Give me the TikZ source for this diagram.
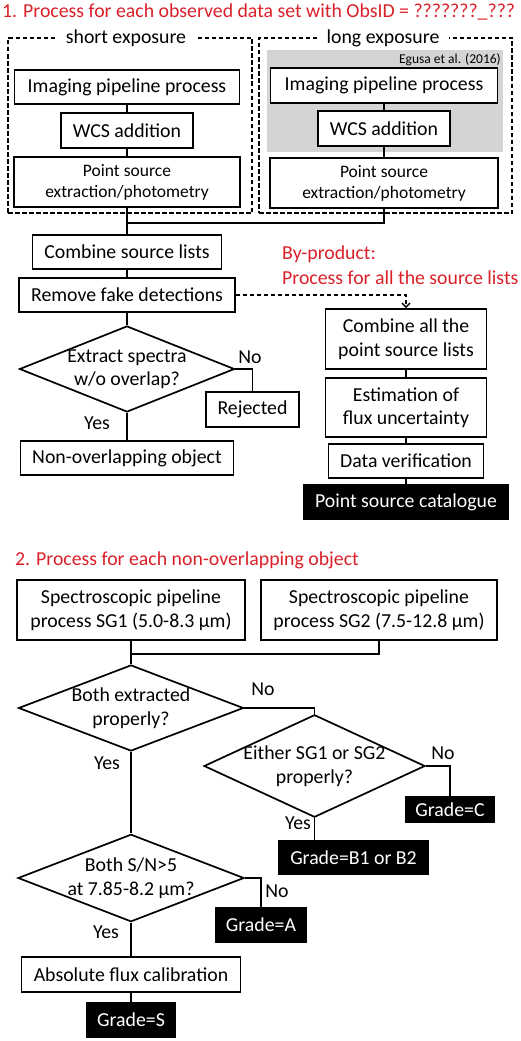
\documentclass[tikz,border=0pt]{standalone}
\usepackage{fontspec}
\setmainfont{Carlito}
\usepackage{tikz}
\usetikzlibrary{shapes.geometric,arrows.meta,positioning}
\definecolor{titlered}{RGB}{218,32,40}
\definecolor{egusagray}{RGB}{212,212,212}
\newcommand\boxfont{\fontsize{19.8}{23.5}\selectfont}
\newcommand\smallboxfont{\fontsize{17.5}{21}\selectfont}

\begin{document}
\begin{tikzpicture}[y=-1pt,x=1pt,
	box/.style={draw,fill=white,line width=1.8pt,inner sep=0pt,align=center,font=\boxfont},
	darkbox/.style={box,fill=black,text=white},
	decision/.style={diamond,draw,line width=1.7pt,inner sep=-20pt,align=center,font=\boxfont},
	group/.style={draw,line width=1.4pt,dash pattern=on 4.5pt off 2.5pt},
	grouplabel/.style={fill=white,inner xsep=10pt,inner ysep=1pt,font=\boxfont},
	answer/.style={inner sep=0pt,font=\boxfont},
	heading/.style={anchor=base west,inner sep=0pt,text=titlered,font=\boxfont},
	link/.style={line width=1.8pt}]
	\useasboundingbox (0,0) rectangle (520,1041);

	% 1. observed data set
	\node[heading] (title1) at (2,18) {1. Process for each observed data set with ObsID = ???????\_???};

	\fill[egusagray] (267,50) rectangle (503,152);
	\node[anchor=east,inner sep=0pt,font=\fontsize{13.5}{15}\selectfont] (egusa) at (501,60) {Egusa et al. (2016)};

	\node[group,minimum width=244,minimum height=175] (short) at (130,125.5) {};
	\node[group,minimum width=253,minimum height=175] (long) at (385.5,125.5) {};
	\node[grouplabel] (shortlabel) at (126,38) {short exposure};
	\node[grouplabel] (longlabel) at (383,38) {long exposure};

	\node[box,minimum width=225,minimum height=34] (ipS) at (127,87) {Imaging pipeline process};
	\node[box,minimum width=132,minimum height=35] (wcsS) at (127,130.5) {WCS addition};
	\node[box,minimum width=226,minimum height=50,font=\smallboxfont] (psS) at (127,182) {Point source\\extraction/photometry};

	\node[box,minimum width=227,minimum height=35] (ipL) at (384,85.5) {Imaging pipeline process};
	\node[box,minimum width=132,minimum height=35] (wcsL) at (384,128.5) {WCS addition};
	\node[box,minimum width=228,minimum height=50,font=\smallboxfont] (psL) at (384,183) {Point source\\extraction/photometry};

	\coordinate (join1) at (127,223);
	\node[box,minimum width=189,minimum height=34] (comb) at (127,252) {Combine source lists};
	\node[box,minimum width=216,minimum height=34] (remove) at (127,295) {Remove fake detections};
	\node[decision,minimum width=215,minimum height=86] (overlap) at (127,369) {Extract spectra\\w/o overlap?};
	\node[box,minimum width=93,minimum height=35] (rejected) at (252.5,409.5) {Rejected};
	\node[box,minimum width=213,minimum height=34] (nonov) at (127,458) {Non-overlapping object};
	\node[answer] (no1) at (250,357) {No};
	\node[answer] (yes1) at (97,423) {Yes};

	% by-product
	\node[anchor=west,inner sep=0pt,text=titlered,font=\boxfont] (byprod) at (282,254) {By-product:};
	\node[anchor=west,inner sep=0pt,text=titlered,font=\boxfont] (byprod2) at (282,278) {Process for all the source lists};
	\node[box,minimum width=161,minimum height=60] (comball) at (406,339) {Combine all the\\point source lists};
	\node[box,minimum width=161,minimum height=59] (flux) at (406,407.5) {Estimation of\\flux uncertainty};
	\node[box,minimum width=155,minimum height=34] (verif) at (406,461) {Data verification};
	\node[darkbox,minimum width=204,minimum height=34] (catalogue) at (406,502) {Point source catalogue};

	\draw[link] (ipS) -- (wcsS);
	\draw[link] (wcsS) -- (psS);
	\draw[link] (ipL) -- (wcsL);
	\draw[link] (wcsL) -- (psL);
	\draw[link] (psS) -- (comb);
	\draw[link] (psL) |- (join1);
	\draw[link] (comb) -- (remove);
	\draw[link] (remove) -- (overlap);
	\draw[link] (overlap.east) -| (rejected);
	\draw[link] (overlap) -- (nonov);
	\draw[line width=1.4pt,dash pattern=on 4.5pt off 2.5pt,-{Straight Barb[length=4pt,width=8pt,line width=1.4pt]}] (remove.east) -| (comball.north);
	\draw[link] (comball) -- (flux);
	\draw[link] (flux) -- (verif);
	\draw[link] (verif) -- (catalogue);

	% 2. non-overlapping object
	\node[heading] (title2) at (15,565) {2. Process for each non-overlapping object};
	\node[box,minimum width=228,minimum height=60] (sg1) at (131,610) {Spectroscopic pipeline\\process SG1 (5.0-8.3 µm)};
	\node[box,minimum width=236,minimum height=60] (sg2) at (379,610) {Spectroscopic pipeline\\process SG2 (7.5-12.8 µm)};
	\coordinate (join2) at (131,654);
	\node[decision,minimum width=225,minimum height=86] (both) at (131,708) {Both extracted\\properly?};
	\node[decision,minimum width=221,minimum height=86] (either) at (314.5,766) {Either SG1 or SG2\\properly?};
	\node[darkbox,minimum width=89,minimum height=26] (gradeC) at (450,809.5) {Grade=C};
	\node[darkbox,minimum width=149,minimum height=33] (gradeB) at (353.5,857.5) {Grade=B1 or B2};
	\node[decision,minimum width=226,minimum height=87] (snr) at (131,878) {Both S/N>5\\at 7.85-8.2 µm?};
	\node[darkbox,minimum width=90,minimum height=34] (gradeA) at (261,925) {Grade=A};
	\node[box,minimum width=219,minimum height=35] (abscal) at (131,974.5) {Absolute flux calibration};
	\node[darkbox,minimum width=88,minimum height=34] (gradeS) at (131,1020) {Grade=S};
	\node[answer] (no2) at (263,689) {No};
	\node[answer] (yes2) at (107,763) {Yes};
	\node[answer] (no3) at (443,753) {No};
	\node[answer] (yes3) at (298,823) {Yes};
	\node[answer] (no4) at (277,891) {No};
	\node[answer] (yes4) at (106,932) {Yes};

	\draw[link] (sg1) -- (both);
	\draw[link] (sg2) |- (join2);
	\draw[link] (both.east) -| (either.north);
	\draw[link] (either.east) -| (gradeC.north);
	\draw[link] (either.south) -- (either.south |- gradeB.north);
	\draw[link] (both) -- (snr);
	\draw[link] (snr.east) -| (gradeA.north);
	\draw[link] (snr) -- (abscal);
	\draw[link] (abscal) -- (gradeS);
\end{tikzpicture}
\end{document}
